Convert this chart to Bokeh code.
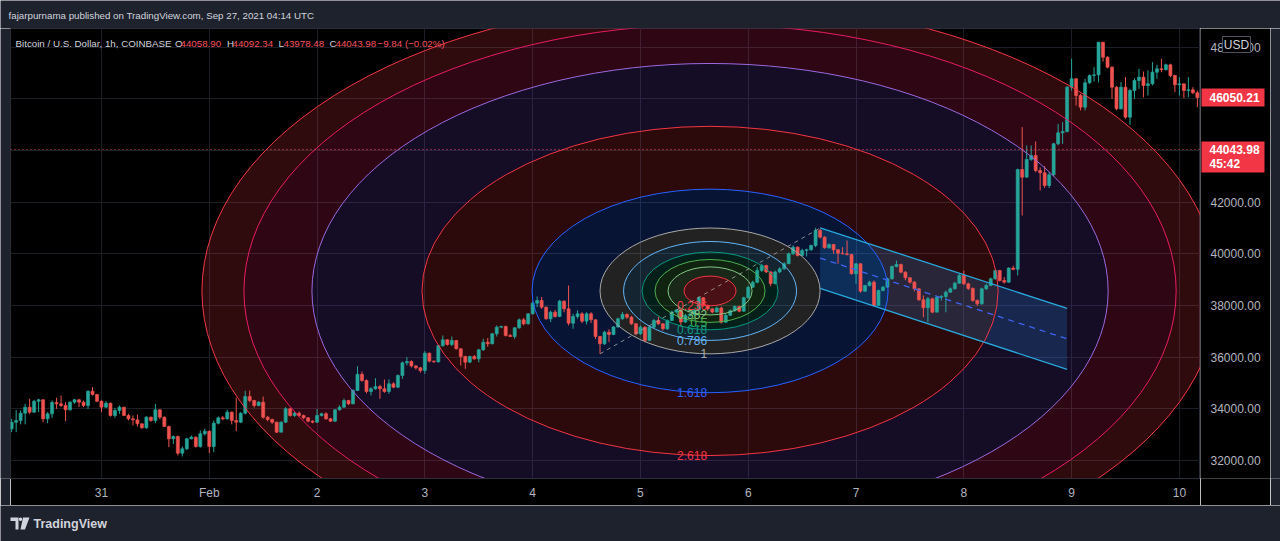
import numpy as np
from bokeh.plotting import figure
from bokeh.layouts import column, row
from bokeh.models import Range1d, FixedTicker, Label, Span
from bokeh.core.properties import value
from bokeh.embed import file_html
from bokeh.resources import INLINE

# ---------------- data (hours since Jan 30 00:00 UTC, BTC/USD 1h Coinbase) ----------------
first_hour = 4
first_open = 33227
closes = [
    33485, 33550, 33833, 34066, 33872, 34298, 34350, 33614, 33808, 34246,
    34195, 34130, 33962, 34259, 34350, 34259, 34130, 34685, 34556, 34298,
    34066, 34221, 33743, 33937, 34066, 33743, 33614, 33575, 33421, 33266,
    33679, 33550, 33962, 33679, 33317, 32840, 32930, 32285, 32453, 32840,
    32904, 32543, 33033, 33135, 32543, 33446, 33653, 33614, 33872, 33549,
    33485, 33833, 34478, 34323, 34130, 34259, 33678, 33588, 33485, 33098,
    33485, 34001, 33743, 33833, 33743, 33653, 33523, 33485, 33743, 33807,
    33614, 33523, 33962, 34065, 34323, 34194, 34710, 35340, 35098, 34672,
    34775, 34865, 34775, 34672, 34969, 34840, 35291, 35782, 35833, 35660,
    35588, 35485, 36156, 35846, 35820, 36453, 36672, 36492, 36646, 36324,
    36027, 35808, 36027, 35937, 36285, 36582, 36517, 36904, 37163, 37188,
    36840, 36801, 37137, 37446, 37292, 37679, 38092, 38195, 37937, 37485,
    37743, 37575, 38169, 37872, 37317, 37575, 37679, 37395, 37679, 37446,
    36801, 36517, 36969, 36880, 37170, 37486, 37654, 37550, 37292, 36905,
    37163, 36650, 37163, 37420, 37290, 37100, 37420, 37750, 37830, 37360,
    37620, 37650, 37830, 38300, 38000, 37870, 37750, 37900, 37357, 37620,
    37800, 37960, 37780, 38300, 38710, 38900, 39360, 39550, 39300, 38850,
    39300, 39420, 39620, 40000, 40260, 39940, 40130, 40157, 40324, 40905,
    40647, 40234, 40363, 40157, 40027, 40002, 39976, 39228, 39615, 38557,
    38776, 38905, 38002, 38582, 38711, 39034, 39511, 39589, 39292, 39073,
    38905, 38647, 38221, 37912, 38260, 37744, 38324, 38350, 38518, 38647,
    38866, 39163, 38840, 38660, 38195, 38066, 38647, 38776, 39034, 39357,
    38970, 38905, 39450, 39400, 43266, 42969, 43653, 43808, 43227, 43137,
    42647, 43060, 44260, 44685, 44737, 46453, 46776, 46130, 45679, 46621,
    46905, 46931, 48195, 47614, 47227, 46453, 45614, 46453, 45292, 46324,
    46711, 46840, 46518, 46582, 47034, 47163, 47130, 47318, 46905, 46543,
    46582, 46324, 46350, 46234, 46050.21,
]
highs = [
    33614, 33950, 33937, 34195, 34390, 34350, 34390, 34370, 33872, 34324,
    34427, 34517, 34259, 34298, 34388, 34388, 34324, 34711, 34840, 34580,
    34324, 34298, 34240, 34040, 34130, 34080, 33808, 33743, 33782, 33440,
    33717, 33700, 34195, 33980, 33700, 33356, 32969, 32969, 32543, 32880,
    32969, 32930, 33162, 33227, 33160, 33549, 33700, 33720, 33962, 33900,
    34427, 33880, 34700, 34710, 34350, 34300, 34478, 33720, 33620, 33500,
    33520, 34065, 34040, 33880, 33900, 33780, 33680, 33560, 34000, 33850,
    33870, 33650, 33990, 34130, 34400, 34350, 34760, 35650, 35446, 35140,
    34840, 35188, 34930, 35136, 35140, 35030, 35330, 35830, 36001, 35880,
    35700, 35620, 36234, 36180, 35880, 36480, 36840, 36700, 36801, 36670,
    36340, 36060, 36060, 36080, 36320, 36711, 36740, 36940, 37227, 37220,
    37227, 36900, 37160, 37500, 37520, 37700, 38169, 38350, 38330, 37960,
    37800, 37830, 38220, 38200, 38775, 37680, 37810, 37740, 37740, 37740,
    37470, 36830, 37020, 37080, 37200, 37530, 37750, 37700, 37600, 37320,
    37230, 37200, 37200, 37480, 37560, 37320, 37460, 37800, 37870, 37880,
    37680, 37720, 37880, 38350, 38330, 38040, 37900, 37960, 37963, 37680,
    37850, 38000, 37990, 38340, 38760, 38960, 39486, 39615, 39580, 39330,
    39350, 39480, 39680, 40050, 40330, 40290, 40200, 40200, 40360, 41008,
    40970, 40680, 40400, 40390, 40190, 40260, 40520, 40000, 39640, 39640,
    38800, 38960, 38970, 38620, 38760, 39080, 39550, 39740, 39620, 39330,
    39100, 38950, 38680, 38390, 38330, 38300, 38360, 38400, 38580, 38700,
    38920, 39250, 39350, 38880, 38700, 38240, 38690, 38850, 39080, 39400,
    39380, 39100, 39480, 39540, 43300, 44905, 44195, 44195, 44350, 43350,
    43400, 43160, 44300, 45030, 45100, 46500, 47550, 46800, 46190, 46776,
    46950, 47227, 48200, 48200, 47650, 47260, 46500, 46650, 46840, 46390,
    46800, 47163, 47060, 47100, 47420, 47320, 47550, 47360, 47360, 46930,
    46840, 46600, 46840, 46450, 46320,
]
lows = [
    33098, 33098, 33400, 33400, 33808, 33850, 33870, 33485, 33446, 33653,
    34001, 34066, 33524, 33930, 34200, 34066, 34066, 34001, 34517, 34260,
    33872, 34040, 33700, 33653, 33808, 33720, 33550, 33356, 33317, 33230,
    33227, 33500, 33446, 33600, 33300, 32518, 32646, 32195, 32156, 32400,
    32820, 32500, 32500, 32969, 32284, 32324, 33400, 33560, 33580, 33400,
    33136, 33450, 33780, 34259, 34050, 34100, 33620, 33520, 33420, 33060,
    33098, 33450, 33700, 33690, 33700, 33600, 33480, 33440, 33460, 33700,
    33580, 33490, 33500, 33930, 34040, 34150, 34180, 34690, 35050, 34600,
    34520, 34740, 34388, 34620, 34580, 34800, 34800, 35160, 35680, 35600,
    35520, 35400, 35356, 35800, 35780, 35790, 36400, 36450, 36430, 36300,
    35679, 35550, 35780, 35900, 35800, 36240, 36400, 36500, 36800, 37120,
    36800, 36780, 36711, 37100, 37230, 37260, 37650, 37940, 37870, 37450,
    37357, 37530, 37550, 37740, 37230, 37100, 37490, 37320, 37270, 37320,
    36710, 36130, 36480, 36582, 36850, 37140, 37450, 37480, 37250, 36850,
    36870, 36582, 36620, 37130, 37250, 37030, 37060, 37400, 37700, 37190,
    37330, 37560, 37600, 37800, 37950, 37800, 37700, 37720, 37300, 37330,
    37590, 37760, 37740, 37760, 38280, 38680, 38860, 39300, 39250, 38750,
    38820, 39250, 39380, 39600, 39960, 39900, 39900, 39900, 40120, 40260,
    40600, 40200, 40200, 40002, 39615, 39976, 39937, 39200, 38840, 38500,
    38530, 38740, 37963, 37980, 38550, 38680, 39000, 39480, 39250, 38980,
    38850, 38550, 38180, 37550, 37357, 37700, 37740, 38190, 37740, 38490,
    38620, 38840, 38800, 38600, 38150, 37990, 38030, 38600, 38750, 39000,
    38930, 38850, 38880, 39360, 39163, 41485, 42950, 43600, 43160, 42453,
    42550, 42550, 43000, 44200, 44260, 44700, 46320, 45740, 45550, 45550,
    46580, 46670, 46640, 47440, 47180, 46000, 45560, 45590, 45230, 44995,
    46000, 46390, 46060, 46130, 46520, 46780, 47030, 47100, 46840, 46260,
    46130, 46030, 46060, 46190, 45680,
]

day_ticks = [24, 48, 72, 96, 120, 144, 168, 192, 216, 240, 264]
day_labels = ["31", "Feb", "2", "3", "4", "5", "6", "7", "8", "9", "10"]
price_ticks = [32000, 34000, 36000, 38000, 40000, 42000, 44000, 46000, 48000]

# Fib circles: two anchor points (hour, price)
fib_t = [135, 184]
fib_p = [36130, 41000]
fib_levels = [0.236, 0.382, 0.5, 0.618, 0.786, 1, 1.618, 2.618, 3.618, 4.236, 4.618]
fib_names = ["0.236", "0.382", "0.5", "0.618", "0.786", "1", "1.618", "2.618", "3.618", "4.236", "4.618"]
fib_colors = ["#f23645", "#81c784", "#4caf50", "#089981", "#64b5f6", "#a8a8a8",
              "#2962ff", "#f23645", "#9c6ade", "#e91e63", "#f23645"]
fib_fill_colors = ["#f23645", "#81c784", "#4caf50", "#089981", "#64b5f6", "#a8a8a8",
                   "#2962ff", "#f23645", "#673ab7", "#e91e63", "#f23645"]
fib_fill_alpha = [0.30, 0.20, 0.20, 0.20, 0.20, 0.20, 0.20, 0.18, 0.20, 0.20, 0.20]

# Parallel channel
chan_t = [184, 239]
chan_upper = [41010, 37890]
chan_lower = [38660, 35530]

last_bar_close = 46050.21
live_price = 44043.98
countdown = "45:42"
currency = "USD"
symbol_text = "Bitcoin / U.S. Dollar, 1h, COINBASE"
ohlc_keys = ["O", "H", "L", "C"]
ohlc_vals = ["44058.90", "44092.34", "43978.48", "44043.98"]
change_text = "\u22129.84 (\u22120.02%)"
header_text = "fajarpurnama published on TradingView.com, Sep 27, 2021 04:14 UTC"
brand_text = "TradingView"

# ---------------- styling ----------------
OUTER = "#1e222d"
BG = "#000000"
UP = "#26a69a"
DOWN = "#ef5350"
AXIS_TXT = "#b2b5be"
GRID = "#1b1e25"
SANS = "Liberation Sans"
SMALL = "9.75px"

X0, X1 = 3.74, 268.7
Y0, Y1 = 31304, 48724
FRAME_L, FRAME_R, FRAME_T, FRAME_B = 10, 1200, 28, 478  # page pixel coordinates
PPX = (Y1 - Y0) / (FRAME_B - FRAME_T)  # price per pixel


def px_t(x):
    return X0 + (x - FRAME_L) * (X1 - X0) / (FRAME_R - FRAME_L)


def px_p(y):
    return Y1 - (y - FRAME_T) * PPX


def blank(w, h, color):
    f = figure(width=w, height=h, x_range=Range1d(0, w), y_range=Range1d(0, h),
               x_axis_type=None, y_axis_type=None, output_backend="svg",
               toolbar_location=None, min_border=0)
    f.background_fill_color = color
    f.border_fill_color = color
    f.outline_line_color = None
    return f


# ---------------- header ----------------
hdr = blank(1280, 28, OUTER)
hdr.text(x=[8], y=[13], text=[header_text], text_font=value(SANS),
         text_font_size=SMALL, text_color="#d1d4dc", text_baseline="middle")

# ---------------- main chart ----------------
p = figure(width=1190, height=477, x_range=Range1d(X0, X1), y_range=Range1d(Y0, Y1),
           y_axis_location=None, output_backend="svg", toolbar_location=None,
           min_border_left=0, min_border_right=0, min_border_top=0, min_border_bottom=27)
p.background_fill_color = BG
p.border_fill_color = BG
p.outline_line_color = "#2a2e39"

p.xgrid.ticker = FixedTicker(ticks=day_ticks)
p.ygrid.ticker = FixedTicker(ticks=price_ticks)
p.xgrid.grid_line_color = GRID
p.ygrid.grid_line_color = GRID

p.xaxis.ticker = FixedTicker(ticks=day_ticks)
p.xaxis.major_label_overrides = {t: s for t, s in zip(day_ticks, day_labels)}
p.xaxis.major_label_text_color = AXIS_TXT
p.xaxis.major_label_text_font = SANS
p.xaxis.major_label_text_font_size = "12px"
p.xaxis.major_tick_line_color = None
p.xaxis.minor_tick_line_color = None
p.xaxis.major_tick_out = 0
p.xaxis.minor_tick_out = 0
p.xaxis.axis_line_color = "#2a2e39"
p.xaxis.major_label_standoff = 7

# fib circle geometry from the anchors
cx = (fib_t[0] + fib_t[1]) / 2
cy = (fib_p[0] + fib_p[1]) / 2
ra = abs(fib_t[1] - fib_t[0]) / 2
rb = abs(fib_p[1] - fib_p[0]) / 2
theta = np.linspace(0, 2 * np.pi, 241)
band_xs, band_ys = [], []
for i, k in enumerate(fib_levels):
    rx = [list(cx + ra * k * np.cos(theta))]
    ry = [list(cy + rb * k * np.sin(theta))]
    if i > 0:
        kin = fib_levels[i - 1]
        rx.append(list(cx + ra * kin * np.cos(theta[::-1])))
        ry.append(list(cy + rb * kin * np.sin(theta[::-1])))
    band_xs.append([rx])
    band_ys.append([ry])
p.multi_polygons(xs=band_xs, ys=band_ys, fill_color=fib_fill_colors, fill_alpha=fib_fill_alpha,
                 line_color=None)

# channel fill
p.patch(x=[chan_t[0], chan_t[1], chan_t[1], chan_t[0]],
        y=[chan_upper[0], chan_upper[1], chan_lower[1], chan_lower[0]],
        fill_color="#2196f3", fill_alpha=0.2, line_color=None)

# candles
n = min(len(closes), len(highs), len(lows))
hours = list(range(first_hour, first_hour + n))
opens = [first_open] + closes[:n - 1]
cl = closes[:n]
hi = [max(h, o, c) for h, o, c in zip(highs[:n], opens, cl)]
lo = [min(l, o, c) for l, o, c in zip(lows[:n], opens, cl)]
cols = [UP if c >= o else DOWN for o, c in zip(opens, cl)]
p.segment(x0=hours, y0=lo, x1=hours, y1=hi, line_color=cols, line_width=1)
p.vbar(x=hours, width=0.68, top=[max(o, c) for o, c in zip(opens, cl)],
       bottom=[min(o, c) for o, c in zip(opens, cl)], fill_color=cols, line_color=cols,
       line_width=0.6)

# fib circle outlines and labels
p.ellipse(x=[cx] * len(fib_levels), y=[cy] * len(fib_levels),
          width=[2 * ra * k for k in fib_levels], height=[2 * rb * k for k in fib_levels],
          fill_color=None, line_color=fib_colors, line_width=1)
vis = [i for i, k in enumerate(fib_levels) if cy - rb * k > Y0 + 8 * PPX]
p.text(x=[cx] * len(vis), y=[cy - rb * fib_levels[i] for i in vis],
       text=[fib_names[i] for i in vis], text_color=[fib_colors[i] for i in vis],
       text_align="right", text_baseline="middle", x_offset=-3,
       text_font=value(SANS), text_font_size="12px")
p.line(fib_t, fib_p, line_color="#a8a8a8", line_dash="4 4", line_width=1, line_alpha=0.8)

# channel lines
p.line(chan_t, chan_upper, line_color="#29a8dc", line_width=1.3)
p.line(chan_t, chan_lower, line_color="#29a8dc", line_width=1.3)
p.line(chan_t, [(u + l) / 2 for u, l in zip(chan_upper, chan_lower)],
       line_color="#3f63f0", line_width=1.3, line_dash="6 5")

# live price line
p.add_layout(Span(location=live_price, dimension="width", line_color="#f7525f",
                  line_dash="1 3", line_width=1))

# legend line inside chart
leg_y = px_p(43)
p.add_layout(Label(x=px_t(15), y=leg_y, text=symbol_text, text_font=SANS,
                   text_font_size=SMALL, text_color="#d1d4dc", text_baseline="middle"))
key_x = [174.5, 226.5, 278, 329]
val_x = [180, 232, 283, 335]
for kx, vx, k_, v_ in zip(key_x, val_x, ohlc_keys, ohlc_vals):
    p.add_layout(Label(x=px_t(kx), y=leg_y, text=k_, text_font=SANS, text_font_size=SMALL,
                       text_color="#d1d4dc", text_baseline="middle"))
    p.add_layout(Label(x=px_t(vx), y=leg_y, text=v_, text_font=SANS, text_font_size=SMALL,
                       text_color="#f7525f", text_baseline="middle"))
p.add_layout(Label(x=px_t(377), y=leg_y, text=change_text, text_font=SANS,
                   text_font_size=SMALL, text_color="#f7525f", text_baseline="middle"))

# ---------------- price axis column ----------------
pax = figure(width=70, height=477, x_range=Range1d(0, 70), y_range=p.y_range,
             x_axis_type=None, y_axis_type=None, output_backend="svg", toolbar_location=None,
             min_border_left=0, min_border_right=0, min_border_top=0, min_border_bottom=27)
pax.background_fill_color = BG
pax.border_fill_color = BG
pax.outline_line_color = None
pax.add_layout(Span(location=0, dimension="height", line_color="#2a2e39", line_width=1))
pax.text(x=[10] * len(price_ticks), y=price_ticks, text=[f"{t:.2f}" for t in price_ticks],
         text_font=value(SANS), text_font_size="12px", text_color=AXIS_TXT,
         text_baseline="middle")
# last bar close tag
pax.rect(x=[32.5], y=[last_bar_close], width=[63], height=[18], height_units="screen",
         fill_color="#f23645", line_color=None)
pax.text(x=[9], y=[last_bar_close], text=[f"{last_bar_close:.2f}"], text_font=value(SANS),
         text_font_size="12px", text_font_style="bold", text_color="#ffffff",
         text_baseline="middle")
# live price + countdown tag
pax.rect(x=[32.5], y=[px_p(156.5)], width=[63], height=[31], height_units="screen",
         fill_color="#f23645", line_color=None)
pax.text(x=[9, 9], y=[live_price, px_p(163)], text=[f"{live_price:.2f}", countdown],
         text_font=value(SANS), text_font_size="12px", text_font_style="bold",
         text_color="#ffffff", text_baseline="middle")
# currency box
pax.rect(x=[36], y=[px_p(44)], width=[28], height=[16], height_units="screen",
         fill_color="#000000", line_color="#50535e", line_width=1)
pax.text(x=[36], y=[px_p(44)], text=[currency], text_font=value(SANS), text_font_size="12px",
         text_color="#d1d4dc", text_align="center", text_baseline="middle")

lstrip = blank(10, 477, OUTER)
rstrip = blank(10, 477, OUTER)

# ---------------- footer ----------------
ftr = blank(1280, 36, OUTER)
ftr.patch(x=[10, 18, 18, 15, 15, 10], y=[24, 24, 12, 12, 20.5, 20.5], fill_color="#d1d4dc",
          line_color=None)
ftr.circle(x=[20], y=[22.2], radius=1.8, fill_color="#d1d4dc", line_color=None)
ftr.patch(x=[22.5, 29, 24.5, 20], y=[24, 24, 12, 12], fill_color="#d1d4dc", line_color=None)
ftr.text(x=[33], y=[18], text=[brand_text], text_font=value(SANS), text_font_size="12.5px",
         text_font_style="bold", text_color="#d1d4dc", text_baseline="middle")

layout = column(hdr, row(lstrip, p, pax, rstrip, spacing=0), ftr, spacing=0)
open("out.html", "w").write(file_html(layout, INLINE))
